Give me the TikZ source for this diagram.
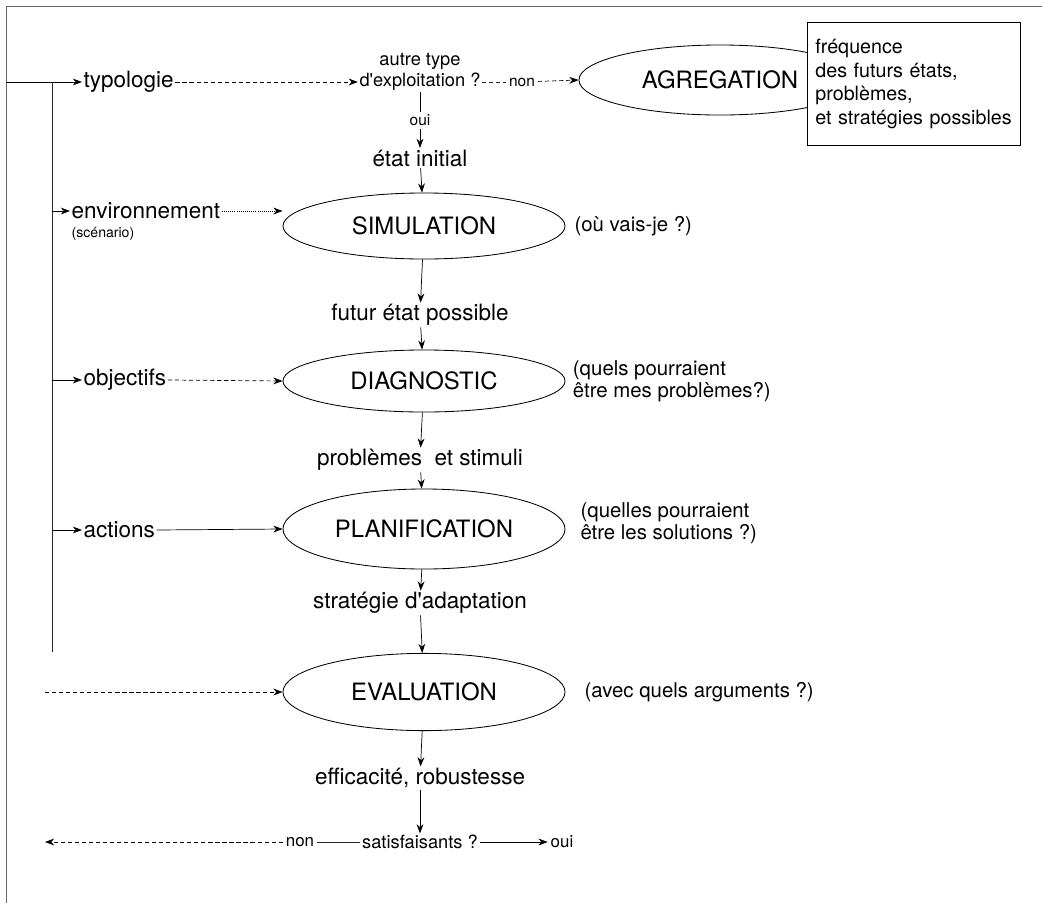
\documentclass[tikz,border=0pt]{standalone}
\usepackage{fontspec}
\setmainfont{TeX Gyre Heros}
\usetikzlibrary{arrows.meta,positioning,shapes.geometric,calc}
\tikzset{
    % Phase of the method
    phase/.style={ellipse,draw,line width=0.6pt,minimum width=7.05cm,minimum height=1.75cm,inner sep=0pt,font=\fontsize{17}{20}\selectfont},
    % Intermediate result on the main axis
    result/.style={font=\fontsize{16}{19}\selectfont,inner sep=1pt},
    % Input on the left
    entree/.style={font=\fontsize{16}{19}\selectfont,anchor=west,inner sep=1pt},
    % Question
    question/.style={font=\fontsize{13}{15}\selectfont,align=center,inner sep=1pt},
    % Comment next to a phase
    note/.style={font=\fontsize{14.5}{15.6}\selectfont,anchor=west,align=left,inner sep=0pt},
    % Small word on a connector
    tag/.style={font=\fontsize{11}{13}\selectfont,fill=white,inner sep=2pt},
    % Arrow
    fleche/.style={-{Stealth[length=2.3mm,width=1.7mm]},line width=0.5pt},
    % Plain line
    trait/.style={line width=0.5pt,black!85}
}
\begin{document}
\begin{tikzpicture}[x=0.025cm,y=-0.025cm]
    \useasboundingbox (0,0) rectangle (1042,903);

    % Frame
    \coordinate (coin) at (6,6);
    \draw[trait,black!60] (coin) -- (1042,6);
    \draw[trait,black!60] (coin) -- (6,903);

    % Main axis
    \node[question] (autre) at (420,72) {autre type\\d\textquotesingle exploitation ?};
    \node[result] (etat) at (420,158) {état initial};
    \node[phase,minimum height=1.65cm] (simu) at (424,226) {SIMULATION};
    \node[result] (futur) at (420,315) {futur état possible};
    \node[phase,minimum height=1.55cm] (diag) at (424,381) {DIAGNOSTIC};
    \node[result] (probl) at (420,460) {problèmes\ \ et stimuli};
    \node[phase,minimum height=2cm] (plan) at (424,529) {PLANIFICATION};
    \node[result] (strat) at (420,603) {stratégie d\textquotesingle adaptation};
    \node[phase,minimum height=1.93cm] (eval) at (424,692) {EVALUATION};
    \node[result] (effic) at (420,778) {efficacité, robustesse};
    \node[question] (sat) at (420,842) {satisfaisants ?};

    % Aggregation and its box
    \node[phase] (agr) at (720,80) {AGREGATION};
    \node[draw,fill=white,line width=0.6pt,anchor=north west,text width=4.925cm,
          minimum height=3.075cm,inner sep=0.2cm,align=left,
          font=\fontsize{14}{17}\selectfont] (freq) at (807,22)
        {fréquence\\des futurs états,\\problèmes,\\et stratégies possibles};

    % Comments
    \node[note,right=0.22cm of simu] (qsimu) {(où vais-je ?)};
    \node[note,right=0.18cm of diag] (qdiag) {(quels pourraient\\être mes problèmes?)};
    \node[note,right=0.37cm of plan,yshift=0.15cm] (qplan) {(quelles pourraient\\être les solutions ?)};
    \node[note,right=0.47cm of eval] (qeval) {(avec quels arguments ?)};

    % Inputs
    \node[entree] (typo) at (82,82) {typologie};
    \node[entree] (env) at (70,211) {environnement};
    \node[entree,font=\fontsize{10}{12}\selectfont] (scen) at (70,234) {(scénario)};
    \node[entree] (obj) at (82,380) {objectifs};
    \node[entree] (act) at (82,530) {actions};

    % Loop on the left
    \coordinate (depart) at (6,82);
    \coordinate (noeud) at (52,82);
    \coordinate (finboucle) at (52,652);
    \coordinate (evin) at (45,692);
    \coordinate (retour) at (45,842);
    \draw[fleche] (depart) -- (typo.west);
    \draw[trait] (noeud) -- (finboucle);
    \draw[fleche] (noeud |- env.west) -- (env.west);
    \draw[fleche] (noeud |- obj.west) -- (obj.west);
    \draw[fleche] (noeud |- act.west) -- (act.west);

    % Inputs to the phases
    \draw[fleche,densely dashed] (typo.east) -- (typo.east -| autre.west);
    \draw[fleche,densely dotted] (env.east) -- (env.east -| simu.west);
    \draw[fleche,densely dashed] (obj.east) -- (diag.west);
    \draw[fleche] (act.east) -- (plan.west);
    \draw[fleche,densely dashed] (evin) -- (eval.west);

    % Top branch
    \node[tag] (nonh) at (522,82) {non};
    \draw[trait,densely dashed] (autre.east |- typo.east) -- (nonh);
    \draw[fleche,densely dashed] (nonh) -- (agr.west);

    % Down the axis
    \draw[fleche] (autre) -- node[tag] {oui} (etat);
    \draw[fleche] (etat) -- (simu);
    \draw[fleche] (simu) -- (futur);
    \draw[fleche] (futur) -- (diag);
    \draw[fleche] (diag) -- (probl);
    \draw[fleche] (probl) -- (plan);
    \draw[fleche] (plan) -- (strat);
    \draw[fleche] (strat) -- (eval);
    \draw[fleche] (eval) -- (effic);
    \draw[fleche] (effic) -- (sat);

    % Test at the bottom
    \node[tag,font=\fontsize{12}{14}\selectfont] (nonb) at (300,842) {non};
    \node[tag,font=\fontsize{12}{14}\selectfont] (ouib) at (562,842) {oui};
    \draw[trait] (sat) -- (nonb);
    \draw[fleche,densely dashed] (nonb) -- (retour);
    \draw[fleche] (sat) -- (ouib);
\end{tikzpicture}
\end{document}
